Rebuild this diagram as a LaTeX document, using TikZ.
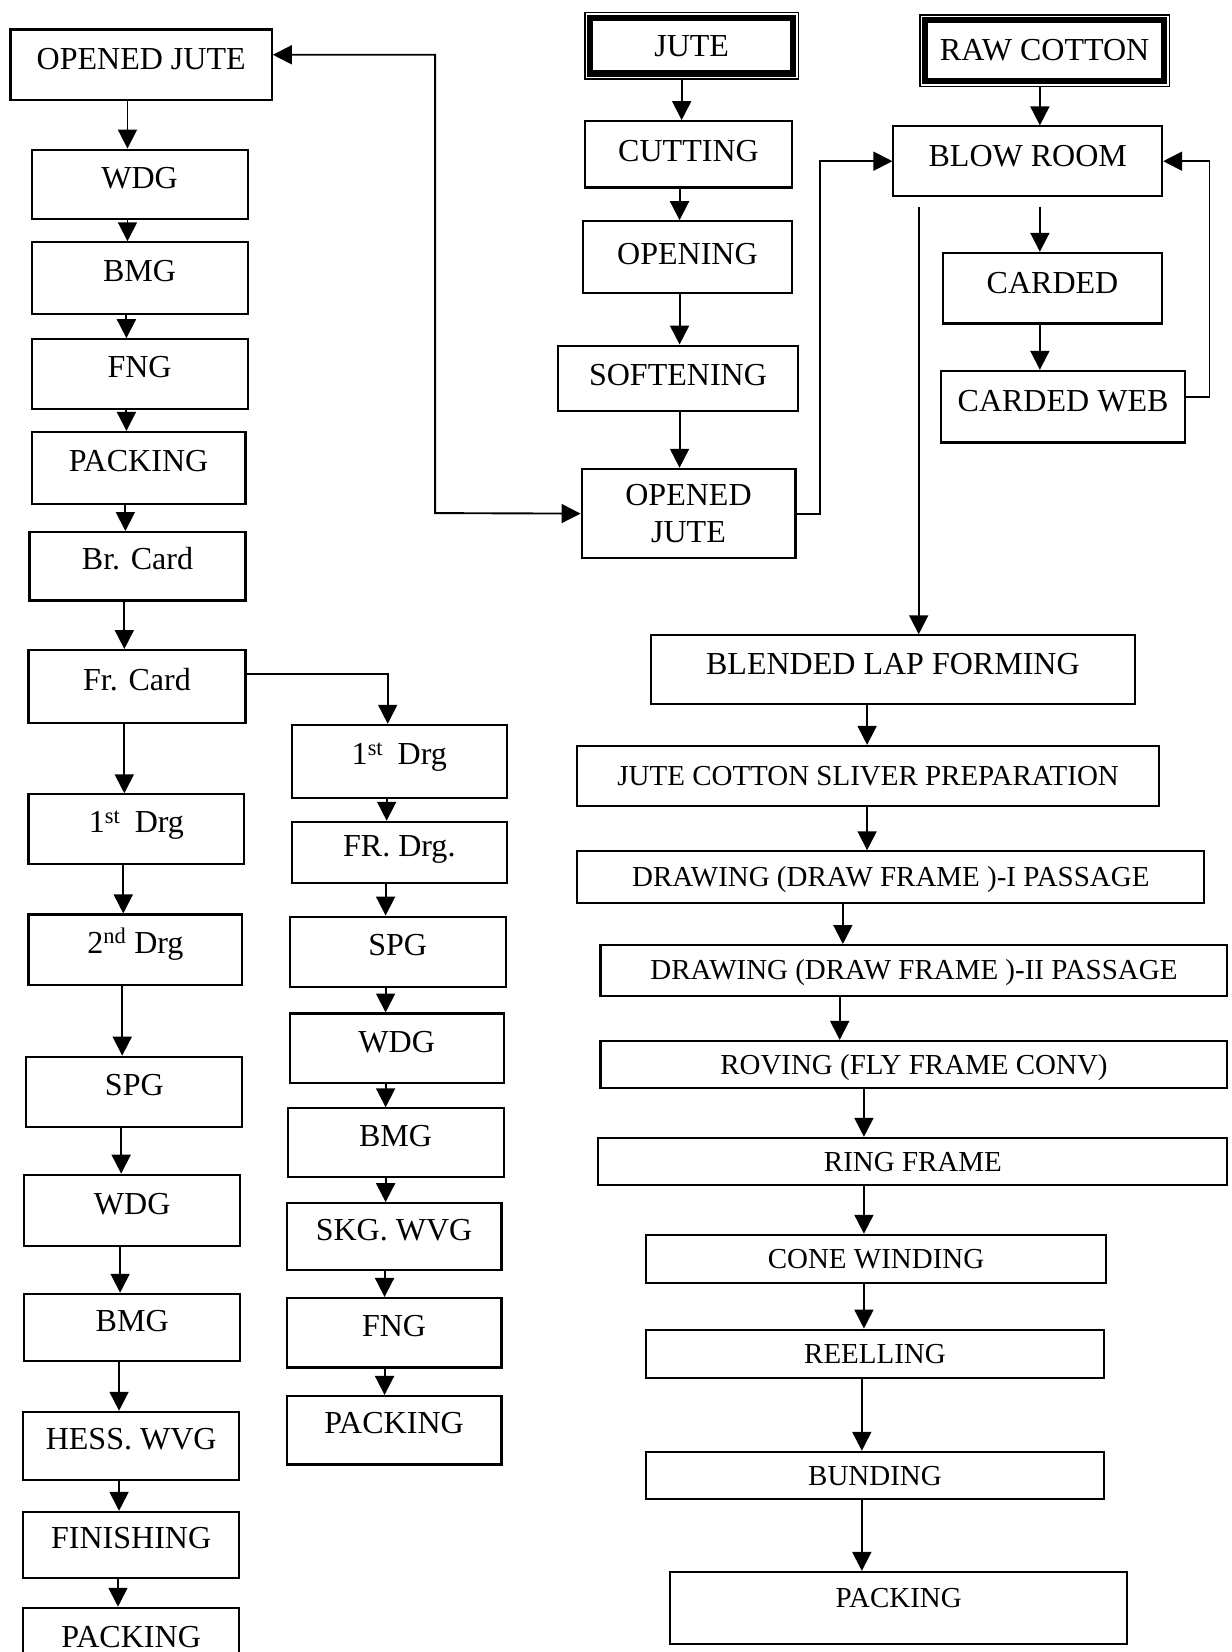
\documentclass[tikz,border=0pt]{standalone}
\usepackage{fontspec}
\setmainfont{Liberation Serif}
\usetikzlibrary{arrows.meta}

% \stagebox{name}{x1}{y1}{x2}{y2}{style}{text}: a box given by its corners
\newcommand\stagebox[7]{%
  \node[#6, minimum width={#4pt-#2pt}, minimum height={#5pt-#3pt}]
    (#1) at ({(#2+#4)/2},{(#3+#5)/2}) {#7};}

\begin{document}
\begin{tikzpicture}[x=1pt, y=-1pt,
  base/.style={draw, line width=2pt, inner sep=0pt,
    font=\fontsize{30.4pt}{35pt}\selectfont},
  box/.style={base, text height=21pt, text depth=14pt},
  lift/.style={text depth=#1},
  small/.style={font=\fontsize{27.5pt}{32pt}\selectfont, text height=19pt},
  source/.style={line width=1.5pt},
  heavy/.style={line width=6pt},
  arr/.style={line width=1.8pt, -{Triangle[length=18pt,width=18pt]}},
  darr/.style={line width=1.8pt,
    {Triangle[length=18pt,width=18pt]}-{Triangle[length=18pt,width=18pt]}}]

\useasboundingbox (0,0) rectangle (1169,1568);
\fill[white] (0,0) rectangle (1169,1568);
\clip (0,0) rectangle (1169,1568);

% ---- jute line (left) ----
\stagebox{L1}{10}{28}{258}{95}{box, lift=13pt}{OPENED JUTE}
\stagebox{L2}{30}{142}{235}{208}{box}{WDG}
\stagebox{L3}{30}{230}{235}{298}{box}{BMG}
\stagebox{L4}{30}{322}{235}{388}{box}{FNG}
\stagebox{L5}{30}{410}{233}{478}{box}{PACKING}
\stagebox{L6}{28}{505}{233}{570}{box}{Br. Card}
\stagebox{L7}{27}{617}{233}{686}{box}{Fr. Card}
\stagebox{L8}{27}{754}{232}{820}{box}{1\textsuperscript{st}\hspace{0.45em}Drg}
\stagebox{L9}{27}{868}{230}{935}{box}{2\textsuperscript{nd} Drg}
\stagebox{L10}{25}{1003}{230}{1070}{box}{SPG}
\stagebox{L11}{23}{1115}{228}{1183}{box}{WDG}
\stagebox{L12}{23}{1228}{228}{1292}{box}{BMG}
\stagebox{L13}{22}{1340}{227}{1405}{box}{HESS. WVG}
\stagebox{L14}{22}{1435}{227}{1498}{box}{FINISHING}
\stagebox{L15}{22}{1526}{227}{1594}{box}{PACKING}

% ---- second jute branch ----
\stagebox{M1}{277}{688}{481}{757}{box}{1\textsuperscript{st}\hspace{0.45em}Drg}
\stagebox{M2}{277}{780}{481}{838}{box}{FR. Drg.}
\stagebox{M3}{275}{870}{480}{937}{box}{SPG}
\stagebox{M4}{275}{962}{478}{1028}{box}{WDG}
\stagebox{M5}{273}{1052}{478}{1117}{box}{BMG}
\stagebox{M6}{272}{1142}{476}{1205}{box}{SKG. WVG}
\stagebox{M7}{272}{1232}{476}{1298}{box}{FNG}
\stagebox{M8}{272}{1325}{476}{1390}{box}{PACKING}

% ---- jute preparation ----
\stagebox{J0}{555}{12}{758}{75}{box, source, lift=1pt}{JUTE}
\stagebox{J1}{555}{115}{752}{178}{box, lift=7pt}{CUTTING}
\stagebox{J2}{553}{210}{752}{278}{box, lift=7pt}{OPENING}
\stagebox{J3}{530}{328}{757}{390}{box, lift=7pt}{SOFTENING}
\stagebox{J4}{552}{445}{755}{530}{base, align=center}{OPENED\\JUTE}

% ---- cotton preparation ----
\stagebox{R0}{873}{14}{1110}{82}{box, source, lift=3pt}{RAW COTTON}
\stagebox{R1}{848}{120}{1103}{186}{box, lift=11pt}{BLOW ROOM}
\stagebox{R2}{895}{240}{1103}{307}{box, lift=11pt}{CARDED}
\stagebox{R3}{893}{352}{1125}{420}{box, lift=11pt}{CARDED WEB}

% thick inner frame of the two raw materials
\draw[heavy] ([shift={(6pt,-6pt)}]J0.north west) rectangle ([shift={(-6pt,6pt)}]J0.south east);
\draw[heavy] ([shift={(6pt,-6pt)}]R0.north west) rectangle ([shift={(-6pt,6pt)}]R0.south east);

% ---- blended yarn line ----
\stagebox{B1}{618}{603}{1077}{668}{box, lift=11pt}{BLENDED LAP FORMING}
\stagebox{B2}{548}{708}{1100}{765}{box, small, lift=1pt}{JUTE COTTON SLIVER PREPARATION}
\stagebox{B3}{548}{808}{1143}{857}{box, small, lift=1pt}{DRAWING (DRAW FRAME )-I PASSAGE}
\stagebox{B4}{570}{897}{1165}{945}{box, small, lift=1pt}{DRAWING (DRAW FRAME )-II PASSAGE}
\stagebox{B5}{570}{988}{1165}{1033}{box, small, lift=1pt}{ROVING (FLY FRAME CONV)}
\stagebox{B6}{568}{1080}{1165}{1125}{box, small, lift=1pt}{RING FRAME}
\stagebox{B7}{613}{1172}{1050}{1218}{box, small, lift=1pt}{CONE WINDING}
\stagebox{B8}{613}{1262}{1048}{1308}{box, small, lift=1pt}{REELLING}
\stagebox{B9}{613}{1378}{1048}{1423}{box, small, lift=1pt}{BUNDING}
\stagebox{B10}{636}{1492}{1070}{1560}{box, small, lift=19pt}{PACKING}

% ---- straight downward flow arrows ----
\foreach \a/\b/\x in {L1/L2/121, L2/L3/121, L3/L4/120, L4/L5/120, L5/L6/119,
    L6/L7/118, L7/L8/118, L8/L9/117, L9/L10/116, L10/L11/115, L11/L12/114,
    L12/L13/113, L13/L14/113, L14/L15/112,
    M1/M2/367, M2/M3/366, M3/M4/366, M4/M5/366, M5/M6/366, M6/M7/365, M7/M8/365,
    J0/J1/647, J1/J2/645, J2/J3/645, J3/J4/645,
    R0/R1/987, R2/R3/987,
    B1/B2/823, B2/B3/823, B3/B4/800, B4/B5/797, B5/B6/820, B6/B7/820,
    B7/B8/820, B8/B9/818, B9/B10/818}
  \draw[arr] (\a.south -| \x,0) -- (\b.north -| \x,0);

% ---- arrows leaving the blow room just below it ----
\coordinate (toCard) at ([yshift=-9pt]R1.south -| 987,0);
\coordinate (toLap)  at ([yshift=-9pt]R1.south -| 872,0);
\draw[arr] (toCard) -- (R2.north -| toCard);
\draw[arr] (toLap) -- (B1.north -| toLap);

% ---- branch and return connectors ----
\draw[arr] ([yshift=11.5pt]L7.east) -| (M1.north -| 368,0);
\draw[darr] ([yshift=9.5pt]L1.east) -| (413,487) -- (J4.west);
\draw[arr] (J4.east) -| (778,153) -- (R1.west);
\draw[arr] ([yshift=9pt]R3.east) -| (1148,153) -- (R1.east);

\end{tikzpicture}
\end{document}
